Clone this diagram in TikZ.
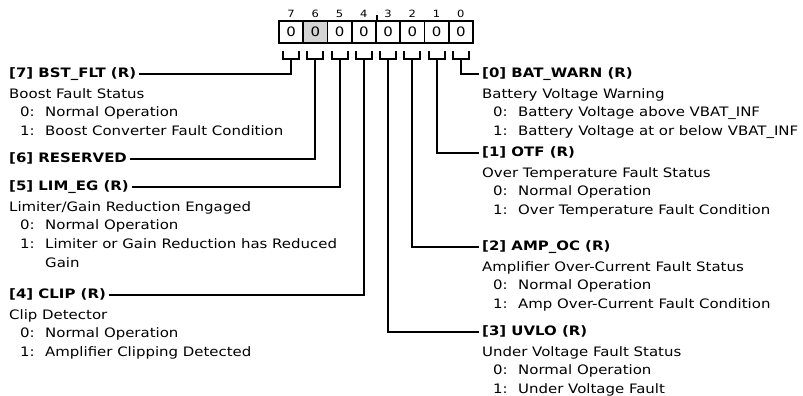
\documentclass[tikz,border=0pt]{standalone}
\usepackage{fontspec}
\setmainfont{DejaVu Sans}[FakeStretch=1.15]
\usepackage{tikz}
\usetikzlibrary{positioning}

% one value line of a field: "0:  text"
\newcommand{\bitval}[2]{\hspace*{11pt}\makebox[25pt][l]{#1:}#2}

\begin{document}
\begin{tikzpicture}[
    x=1pt, y=-1pt,
    cell/.style={rectangle, draw, line width=1.8pt, minimum width=24.25pt,
                 minimum height=22pt, inner sep=0pt,
                 font=\fontsize{13}{15}\selectfont},
    bitnum/.style={font=\fontsize{10}{12}\selectfont, inner sep=1pt},
    title/.style={inner sep=0pt, text height=9.5pt, text depth=2.5pt,
                  font=\fontsize{13}{15}\selectfont\bfseries},
    desc/.style={align=left, inner sep=0pt,
                 font=\fontsize{13}{18.6}\selectfont,
                 execute at begin node=\rule{0pt}{10pt}},
    wire/.style={line width=2pt},
]
\useasboundingbox (0,0) rectangle (803,396);

% register cells, bit 7 on the left
\foreach \b [count=\i from 0] in {7,6,5,4,3,2,1,0} {
    \node[cell] (reg\b) at (279+24.25*\i+12.125, 32) {0};
    \node[bitnum, above=1pt of reg\b] (num\b) {\b};
}
\fill[black!17] ([shift={(0.9pt,-0.9pt)}]reg6.north west)
    rectangle ([shift={(-0.9pt,0.9pt)}]reg6.south east);
\node[cell] at (reg6) {0};
\draw[line width=1.2pt] (reg4.north east) -- ++(0,-5);

% left fields
\node[title, anchor=west] (b7) at (9,74) {[7] BST\_FLT (R)};
\node[desc, below=8pt of b7.south west, anchor=north west] (d7) {Boost Fault Status\\
    \bitval{0}{Normal Operation}\\
    \bitval{1}{Boost Converter Fault Condition}};
\node[title, anchor=west] (b6) at (9,159) {[6] RESERVED};
\node[title, anchor=west] (b5) at (9,187) {[5] LIM\_EG (R)};
\node[desc, below=8pt of b5.south west, anchor=north west] (d5) {Limiter/Gain Reduction Engaged\\
    \bitval{0}{Normal Operation}\\
    \bitval{1}{Limiter or Gain Reduction has Reduced}\\
    \hspace*{36pt}Gain};
\node[title, anchor=west] (b4) at (9,295) {[4] CLIP (R)};
\node[desc, below=8pt of b4.south west, anchor=north west] (d4) {Clip Detector\\
    \bitval{0}{Normal Operation}\\
    \bitval{1}{Amplifier Clipping Detected}};

% right fields
\node[title, anchor=west] (b0) at (482,74) {[0] BAT\_WARN (R)};
\node[desc, below=8pt of b0.south west, anchor=north west] (d0) {Battery Voltage Warning\\
    \bitval{0}{Battery Voltage above VBAT\_INF}\\
    \bitval{1}{Battery Voltage at or below VBAT\_INF}};
\node[title, anchor=west] (b1) at (482,153) {[1] OTF (R)};
\node[desc, below=8pt of b1.south west, anchor=north west] (d1) {Over Temperature Fault Status\\
    \bitval{0}{Normal Operation}\\
    \bitval{1}{Over Temperature Fault Condition}};
\node[title, anchor=west] (b2) at (482,247) {[2] AMP\_OC (R)};
\node[desc, below=8pt of b2.south west, anchor=north west] (d2) {Amplifier Over-Current Fault Status\\
    \bitval{0}{Normal Operation}\\
    \bitval{1}{Amp Over-Current Fault Condition}};
\node[title, anchor=west] (b3) at (482,332) {[3] UVLO (R)};
\node[desc, below=8pt of b3.south west, anchor=north west] (d3) {Under Voltage Fault Status\\
    \bitval{0}{Normal Operation}\\
    \bitval{1}{Under Voltage Fault}};

% brackets and leaders
\foreach \b/\side in {7/east,6/east,5/east,4/east,3/west,2/west,1/west,0/west} {
    \draw[wire] ([shift={(-8pt,-7pt)}]reg\b.south) |- ([yshift=-15pt]reg\b.south)
        -| ([shift={(8pt,-7pt)}]reg\b.south);
    \draw[wire, shorten >=3pt] ([yshift=-15pt]reg\b.south) |- (b\b.\side);
}
\end{tikzpicture}
\end{document}
